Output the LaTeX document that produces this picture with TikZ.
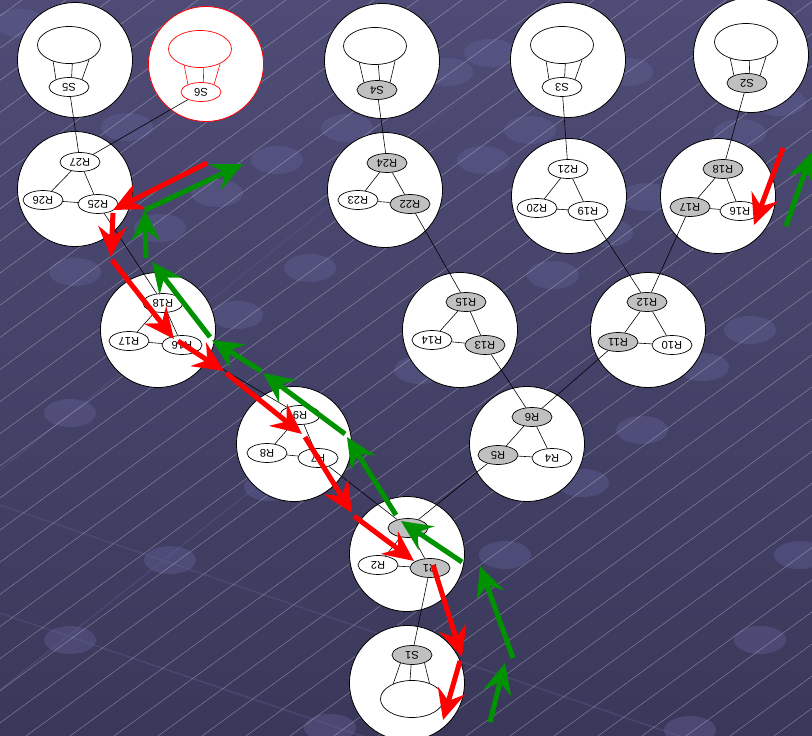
\documentclass[tikz,border=0pt]{standalone}
\usepackage{fontspec}
\setmainfont{Liberation Sans}
\usepackage{xcolor}
\usepackage{tikz}
\usetikzlibrary{shapes.geometric,arrows.meta}
\definecolor{bgtop}{RGB}{78,76,118}
\definecolor{bgbot}{RGB}{58,56,90}
\definecolor{blobc}{RGB}{96,94,146}
\definecolor{gridc}{RGB}{88,86,132}
\definecolor{grn}{RGB}{0,146,0}
\definecolor{rtgray}{RGB}{192,192,192}
\tikzset{
clus/.style={circle,draw,fill=white,line width=0.7pt,minimum size=3.45cm,inner sep=0pt},
lan/.style={ellipse,draw,fill=white,line width=0.6pt,minimum width=1.89cm,minimum height=1.11cm},
rtr/.style={ellipse,draw,fill=white,line width=0.6pt,minimum width=1.2cm,minimum height=0.57cm,inner sep=0pt,rotate=180,font=\fontsize{9.5}{10}\selectfont},
rtrg/.style={rtr,fill=rtgray},
link/.style={line width=0.5pt},
redarr/.style={red,line width=4.3pt,-{Stealth[length=26pt,width=24pt,inset=9pt]}},
grnarr/.style={grn,line width=4.3pt,-{Stealth[length=26pt,width=24pt,inset=9pt]}},
blob/.style={fill=blobc,opacity=0.45}
}
\begin{document}
\begin{tikzpicture}[x=0.03cm,y=-0.03cm]
\useasboundingbox (0,0) rectangle (812,736);
\fill[top color=bgtop,bottom color=bgbot] (0,0) rectangle (812,736);
\begin{scope}
\clip (0,0) rectangle (812,736);
\draw[gridc,line width=1.2pt,opacity=0.5](0,505)--(812,781)
(0,613)--(812,889)
(0,690)--(330,428)
(0,470)--(560,20);
\foreach \p in {(20,23),(127,127),(217,193),(160,228),(277,160),(347,128),(447,72),(490,53),(483,160),(530,130),(627,72),(740,133),(780,102),(647,197),(607,233),(553,275),(310,268),(75,272),(237,315),(420,370),(70,413),(642,430),(703,367),(750,330),(583,483),(270,487),(170,560),(505,555),(800,555),(70,640),(760,640),(330,728),(690,730)}
\fill[blob] \p ellipse (26 and 14);
\foreach \x in {-1030,-986,...,812}
\draw[white,opacity=0.4,line width=0.35pt](\x,736)--++(1008,-736);
\end{scope}
\node[clus] (c5) at (75,60) {};
\node[clus,draw=red] (c6) at (206,64) {};
\node[clus] (c4) at (382,61) {};
\node[clus] (c3) at (568,60) {};
\node[clus] (c2) at (751,55) {};
\node[clus] (c1) at (407,683) {};
\node[clus] (ca) at (75,189) {};
\node[clus] (cb) at (385,190) {};
\node[clus] (cc) at (569,196) {};
\node[clus] (cd) at (718,196) {};
\node[clus] (ce) at (158,330) {};
\node[clus] (cf) at (460,330) {};
\node[clus] (cg) at (648,330) {};
\node[clus] (ch) at (294,444) {};
\node[clus] (ci) at (527,444) {};
\node[clus] (cj) at (407,554) {};
\node[lan] (l5) at (69,45) {};
\node[rtr] (s5) at (69,87) {S5};
\draw[link](l5.226)--(s5.330) (l5.280)--(s5.255) (l5.324)--(s5.210);
\node[lan,draw=red] (l6) at (200,49) {};
\node[rtr,draw=red] (s6) at (201,92) {S6};
\draw[link,red](l6.226)--(s6.330) (l6.280)--(s6.255) (l6.324)--(s6.210);
\node[lan] (l4) at (375,46) {};
\node[rtrg] (s4) at (377,90) {S4};
\draw[link](l4.226)--(s4.330) (l4.280)--(s4.255) (l4.324)--(s4.210);
\node[lan] (l3) at (562,45) {};
\node[rtr] (s3) at (562,87) {S3};
\draw[link](l3.226)--(s3.330) (l3.280)--(s3.255) (l3.324)--(s3.210);
\node[lan] (l2) at (746,42) {};
\node[rtrg] (s2) at (747,83) {S2};
\draw[link](l2.226)--(s2.330) (l2.280)--(s2.255) (l2.324)--(s2.210);
\node[lan] (l1) at (412,699) {};
\node[rtrg] (s1) at (412,655) {S1};
\draw[link](l1.141)--(s1.35) (l1.96)--(s1.85) (l1.42)--(s1.148);
\node[rtr] (r27) at (80,162) {R27};
\node[rtr] (r26) at (43,200) {R26};
\node[rtr] (r25) at (98,204) {R25};
\draw[link](r27)--(r26)--(r25)--(r27);
\node[rtrg] (r24) at (387,163) {R24};
\node[rtr] (r23) at (358,200) {R23};
\node[rtrg] (r22) at (410,204) {R22};
\draw[link](r24)--(r23)--(r22)--(r24);
\node[rtr] (r21) at (568,169) {R21};
\node[rtr] (r20) at (537,208) {R20};
\node[rtr] (r19) at (588,211) {R19};
\draw[link](r21)--(r20)--(r19)--(r21);
\node[rtrg] (d18) at (723,169) {R18};
\node[rtrg] (d17) at (690,207) {R17};
\node[rtr] (d16) at (740,211) {R16};
\draw[link](d18)--(d17)--(d16)--(d18);
\node[rtr] (e18) at (163,303) {R18};
\node[rtr] (e17) at (129,341) {R17};
\node[rtr] (e16) at (182,345) {R16};
\draw[link](e18)--(e17)--(e16)--(e18);
\node[rtrg] (r15) at (466,302) {R15};
\node[rtr] (r14) at (432,340) {R14};
\node[rtrg] (r13) at (485,345) {R13};
\draw[link](r15)--(r14)--(r13)--(r15);
\node[rtrg] (r12) at (647,302) {R12};
\node[rtrg] (r11) at (618,342) {R11};
\node[rtr] (r10) at (672,345) {R10};
\draw[link](r12)--(r11)--(r10)--(r12);
\node[rtr] (r9) at (300,415) {R9};
\node[rtr] (r8) at (267,453) {R8};
\node[rtr] (r7) at (318,458) {R7};
\draw[link](r9)--(r8)--(r7)--(r9);
\node[rtrg] (r6) at (532,417) {R6};
\node[rtrg] (r5) at (498,455) {R5};
\node[rtr] (r4) at (552,458) {R4};
\draw[link](r6)--(r5)--(r4)--(r6);
\node[rtrg] (r3) at (408,528) {};
\node[rtr] (r2) at (378,565) {R2};
\node[rtrg] (r1) at (430,568) {R1};
\draw[link](r3)--(r2)--(r1)--(r3);
\draw[link](s5)--(r27) (s6)--(r27) (r25)--(e18) (s4)--(r24) (r22)--(r15)
(s3)--(r21) (r19)--(r12) (s2)--(d18) (d17)--(r12) (e16)--(r9)
(r13)--(r6) (r11)--(r6) (r7)--(r3) (r5)--(r3) (r1)--(s1);
\draw[redarr](207,163)--(113,210);
\draw[redarr](113,213)--(111,257);
\draw[redarr](112,260)--(174,339);
\draw[redarr](178,341)--(224,371);
\draw[redarr](226,373)--(302,434);
\draw[redarr](305,437)--(352,513);
\draw[redarr](354,516)--(414,561);
\draw[redarr](433,565)--(462,657);
\draw[redarr](460,661)--(443,720);
\draw[redarr](783,148)--(754,225);
\draw[grnarr](490,722)--(505,663);
\draw[grnarr](513,658)--(480,566);
\draw[grnarr](462,562)--(401,521);
\draw[grnarr](396,515)--(347,437);
\draw[grnarr](345,434)--(263,373);
\draw[grnarr](261,371)--(212,340);
\draw[grnarr](210,337)--(152,262);
\draw[grnarr](146,258)--(145,210);
\draw[grnarr](145,210)--(243,164);
\draw[grnarr](786,226)--(812,152);
\end{tikzpicture}
\end{document}
